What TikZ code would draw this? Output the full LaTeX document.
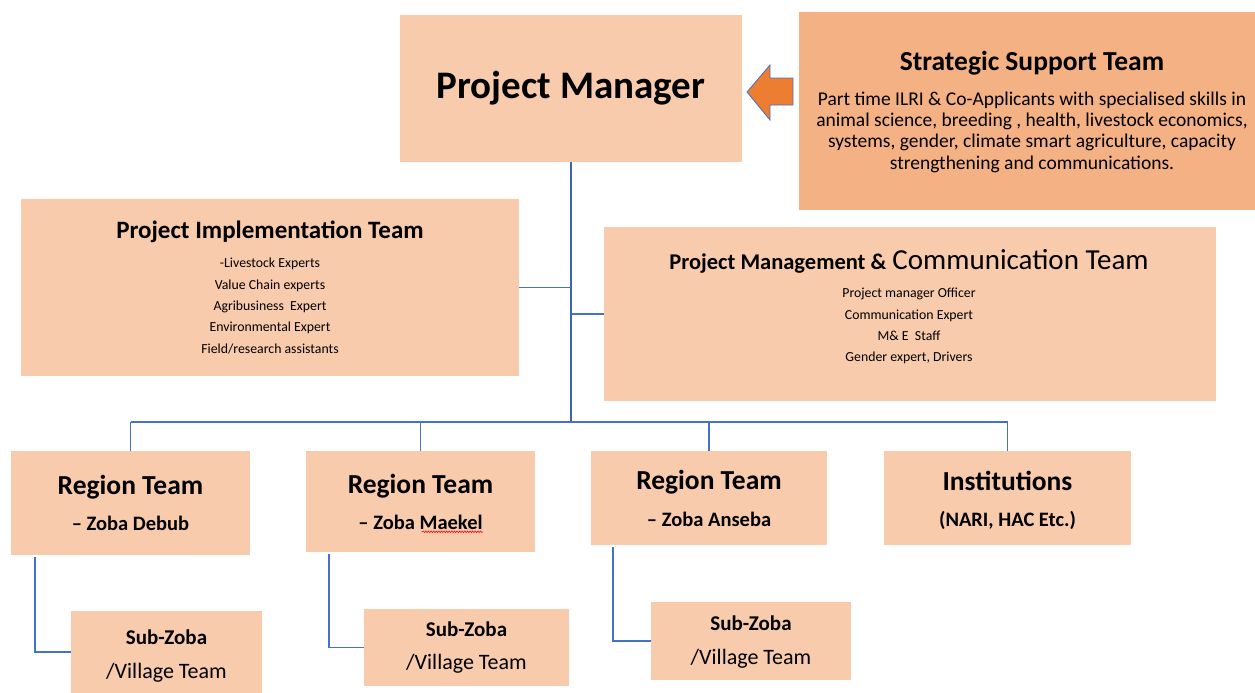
\documentclass[tikz,border=0pt]{standalone}
\usepackage{fontspec}
\setmainfont{Carlito}
\usetikzlibrary{decorations.pathmorphing}
\definecolor{boxc}{HTML}{F8CBAD}
\definecolor{sstc}{HTML}{F4B183}
\definecolor{linec}{HTML}{4472C4}
\definecolor{mainc}{HTML}{3F62A8}
\definecolor{arrc}{HTML}{ED7D31}
\begin{document}
\begin{tikzpicture}[x=1pt,y=-1pt,
  box/.style={fill=boxc, draw=none, inner sep=0pt, outer sep=0pt, anchor=north west},
  conn/.style={draw=linec, line width=1.2pt},
  mainline/.style={draw=mainc, line width=2pt},
  lbl/.style={inner sep=0pt, outer sep=0pt, align=center, text=black},
  fpm/.style={font=\fontsize{39}{44}\selectfont\bfseries},
  fsst/.style={font=\fontsize{27.5}{32}\selectfont\bfseries},
  fpit/.style={font=\fontsize{25}{30}\selectfont\bfseries},
  fbody/.style={font=\fontsize{19.5}{21.3}\selectfont},
  fsmall/.style={font=\fontsize{13.8}{21.3}\selectfont},
  freg/.style={font=\fontsize{27.5}{32}\selectfont\bfseries},
  fregsub/.style={font=\fontsize{20.5}{24}\selectfont\bfseries},
  fsz/.style={font=\fontsize{21}{24}\selectfont\bfseries},
  fvil/.style={font=\fontsize{22}{26}\selectfont},
  wavy/.style={draw=red, line width=0.6pt, decorate, decoration={snake, amplitude=0.8pt, segment length=2.6pt}}
]
\useasboundingbox (0,0) rectangle (1255,693);
\fill[white] (0,0) rectangle (1255,693);

% boxes
\node[box, minimum width=342pt, minimum height=147pt] (pm) at (400,15) {};
\node[box, fill=sstc, minimum width=456pt, minimum height=198pt] (sst) at (799,12) {};
\node[box, minimum width=498pt, minimum height=177pt] (pit) at (21,199) {};
\node[box, minimum width=612pt, minimum height=174pt] (pmc) at (604,227) {};
\node[box, minimum width=239pt, minimum height=104pt] (rt1) at (11,451) {};
\node[box, minimum width=229pt, minimum height=101pt] (rt2) at (306,451) {};
\node[box, minimum width=236pt, minimum height=94pt] (rt3) at (591,451) {};
\node[box, minimum width=247pt, minimum height=94pt] (inst) at (884,451) {};
\node[box, minimum width=191pt, minimum height=82pt] (sz1) at (71,611) {};
\node[box, minimum width=205pt, minimum height=77pt] (sz2) at (364,609) {};
\node[box, minimum width=200pt, minimum height=78pt] (sz3) at (651,602) {};

% arrow
\filldraw[fill=arrc, draw=linec, line width=0.8pt, line join=miter]
  (793,78) -- (770,78) -- (770,65) -- (747,92) -- (770,120) -- (770,105) -- (793,105) -- cycle;

% connectors
\coordinate (bus) at (571,422);
\draw[mainline] (pm.south) -- (bus);
\draw[conn] (pit.east) -- (pit.east -| pm.south);
\draw[conn] (pmc.west) -- (pmc.west -| pm.south);
\draw[conn] (rt1.north |- bus) -- (inst.north |- bus);
\draw[conn] (rt1.north |- bus) -- (rt1.north);
\draw[conn] (rt2.north |- bus) -- (rt2.north);
\draw[conn] (rt3.north |- bus) -- (rt3.north);
\draw[conn] (inst.north |- bus) -- (inst.north);
\draw[conn] ([xshift=24pt,yshift=-2pt]rt1.south west) |- (sz1.west);
\draw[conn] ([xshift=23pt,yshift=-2pt]rt2.south west) |- (sz2.west);
\draw[conn] ([xshift=22pt,yshift=-2pt]rt3.south west) |- (sz3.west);

% texts
\node[lbl, fpm] (pmt) at (571,88) {Project Manager};

\node[lbl, fsst] (sstt) at (1032,63) {Strategic Support Team};
\node[lbl, fbody] (sstb) at (1032,132) {Part time ILRI \& Co-Applicants with specialised skills in\\
animal science, breeding , health, livestock economics,\\
systems, gender, climate smart agriculture, capacity\\
strengthening and communications.};

\node[lbl, fpit] (pitt) at (270,232) {Project Implementation Team};
\node[lbl, fsmall] (pitb) at (270,306) {-Livestock Experts\\
Value Chain experts\\
Agribusiness\ \ Expert\\
Environmental Expert\\
Field/research assistants};

\node[lbl] (pmct) at (909,261) {{\fontsize{22.5}{26}\selectfont\bfseries Project Management \&}\hspace{6pt}{\fontsize{29}{32}\selectfont Communication Team}};
\node[lbl, fsmall] (pmcb) at (909,326) {Project manager Officer\\
Communication Expert\\
M\&\ E\ \ Staff\\
Gender expert, Drivers};

\node[lbl, freg] (rt1t) at ([yshift=-36pt]rt1.north) {Region Team};
\node[lbl, fregsub] (rt1s) at ([yshift=-72pt]rt1.north) {– Zoba Debub};
\node[lbl, freg] (rt2t) at ([yshift=-35pt]rt2.north) {Region Team};
\node[lbl, fregsub] (rt2s) at ([yshift=-71pt]rt2.north) {– Zoba Maekel};
\node[lbl, freg] (rt3t) at ([yshift=-31pt]rt3.north) {Region Team};
\node[lbl, fregsub] (rt3s) at ([yshift=-68pt]rt3.north) {– Zoba Anseba};
\node[lbl, freg] (instt) at ([yshift=-30pt]inst.north) {Institutions};
\node[lbl, fregsub] (insts) at ([yshift=-69pt]inst.north) {(NARI, HAC Etc.)};

\node[lbl, fsz] (sz1t) at ([yshift=-26pt]sz1.north) {Sub-Zoba};
\node[lbl, fvil] (sz1s) at ([yshift=-62pt]sz1.north) {/Village Team};
\node[lbl, fsz] (sz2t) at ([yshift=-20pt]sz2.north) {Sub-Zoba};
\node[lbl, fvil] (sz2s) at ([yshift=-55pt]sz2.north) {/Village Team};
\node[lbl, fsz] (sz3t) at ([yshift=-21pt]sz3.north) {Sub-Zoba};
\node[lbl, fvil] (sz3s) at ([yshift=-57pt]sz3.north) {/Village Team};

% spell-check underline
\draw[wavy] (rt2s.south east) ++(0,2.5) -- ++(-61,0);
\end{tikzpicture}
\end{document}
